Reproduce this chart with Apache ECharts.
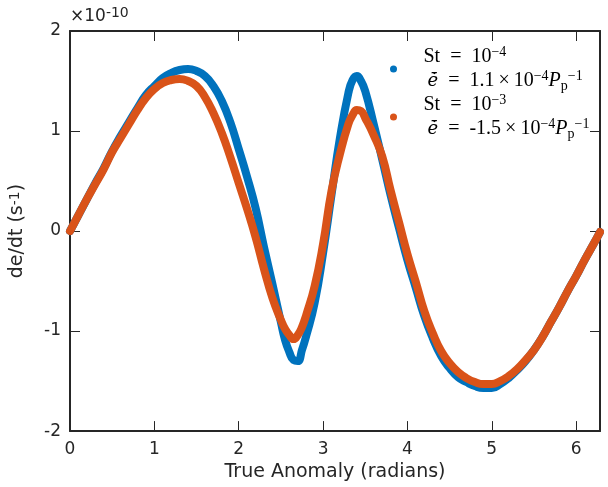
<!DOCTYPE html>
<html>
<head>
<meta charset="utf-8">
<script src="https://cdn.jsdelivr.net/npm/echarts@6/dist/echarts.min.js"></script>
<style>
html,body{margin:0;padding:0;background:#fff;}
#chart{width:608px;height:487px;}
</style>
</head>
<body>
<div id="chart"></div>
<script>
// True anomaly (radians)
var anomaly = [0,0.1,0.2,0.3,0.4,0.5,0.6,0.7,0.8,0.9,1.0,1.1,1.2,1.3,1.4,1.5,1.6,1.7,1.8,1.9,2.0,2.1,2.2,2.3,2.4,2.5,2.55,2.6,2.65,2.7,2.75,2.8,2.9,3.0,3.1,3.2,3.3,3.35,3.4,3.45,3.5,3.6,3.7,3.8,3.9,4.0,4.1,4.2,4.3,4.4,4.5,4.6,4.7,4.8,4.9,5.0,5.1,5.2,5.3,5.4,5.5,5.6,5.7,5.8,5.9,6.0,6.1,6.2,6.283];
// de/dt in units of 1e-10 s^-1, St = 1e-4 (blue)
var dedtSt4 = [0.00,0.16,0.32,0.48,0.63,0.80,0.95,1.09,1.23,1.36,1.45,1.53,1.58,1.61,1.62,1.60,1.55,1.45,1.30,1.09,0.82,0.54,0.23,-0.16,-0.53,-0.91,-1.09,-1.21,-1.29,-1.30,-1.19,-1.05,-0.72,-0.22,0.36,0.93,1.38,1.51,1.55,1.50,1.40,1.07,0.72,0.36,0.03,-0.29,-0.57,-0.85,-1.07,-1.25,-1.37,-1.46,-1.51,-1.55,-1.57,-1.57,-1.53,-1.47,-1.39,-1.30,-1.19,-1.06,-0.91,-0.76,-0.60,-0.45,-0.29,-0.14,-0.01];
// de/dt in units of 1e-10 s^-1, St = 1e-3 (orange)
var dedtSt3 = [0.00,0.16,0.32,0.47,0.62,0.79,0.93,1.07,1.21,1.33,1.42,1.48,1.51,1.52,1.50,1.45,1.34,1.18,0.98,0.74,0.48,0.22,-0.06,-0.38,-0.67,-0.89,-0.98,-1.04,-1.08,-1.04,-0.96,-0.84,-0.55,-0.13,0.40,0.77,1.07,1.16,1.21,1.20,1.13,0.96,0.75,0.41,0.09,-0.23,-0.51,-0.80,-1.02,-1.20,-1.32,-1.41,-1.47,-1.51,-1.53,-1.53,-1.50,-1.45,-1.38,-1.29,-1.19,-1.06,-0.91,-0.76,-0.60,-0.45,-0.29,-0.14,-0.01];
var xTicks = [0,1,2,3,4,5,6];
var yTicks = [-2,-1,0,1,2];
var seriesNames = ['St4','St3'];

function pairs(xs, ys){ return xs.map(function(x,i){ return [x, ys[i]]; }); }

var axisColor = '#262626';
var serif = 'Liberation Serif';
var rich = {
  t:{fontFamily:serif,fontSize:20,color:'#000',lineHeight:24},
  e:{fontFamily:'DejaVu Serif',fontSize:18,fontStyle:'italic',color:'#000',lineHeight:24},
  it:{fontFamily:serif,fontSize:20,fontStyle:'italic',color:'#000',lineHeight:24},
  sup:{fontFamily:serif,fontSize:14,color:'#000',lineHeight:15,verticalAlign:'top'},
  sub:{fontFamily:serif,fontSize:14,color:'#000',lineHeight:13,verticalAlign:'bottom'}
};
var eDot = 'e\u0307\u0304';

function makeAxis(kind, position, extra){
  var a = {
    type:'value', position:position,
    axisLine:{show:true,onZero:false,lineStyle:{color:axisColor,width:2}},
    axisTick:{show:true,inside:true,length:10,lineStyle:{color:axisColor}},
    splitLine:{show:false},
    axisLabel:{show:false}
  };
  if(kind==='x'){ a.min=0; a.max=6.283; a.interval=1; }
  else { a.min=-2; a.max=2; a.interval=1; }
  for(var k in extra){ a[k]=extra[k]; }
  return a;
}

var chart = echarts.init(document.getElementById('chart'));

chart.setOption({
  backgroundColor:'#fff',
  animation:false,
  grid:{left:68,right:8,top:31,bottom:55},
  graphic:[{type:'text',left:70,top:6,style:{
    text:'×10{s|-10}',
    rich:{s:{fontFamily:'DejaVu Sans',fontSize:14,fill:axisColor,lineHeight:14,verticalAlign:'top'}},
    fontFamily:'DejaVu Sans',fontSize:17,fill:axisColor,lineHeight:22}}],
  legend:{
    orient:'vertical',left:385,top:40,itemWidth:50,itemHeight:7,itemGap:0,
    data:[{name:seriesNames[0],icon:'circle'},{name:seriesNames[1],icon:'circle'}],
    formatter:function(name){
      if(name===seriesNames[0]){
        return '{t|St\u2002=\u200210}{sup|−4}\n{t|\u2009}{e|' + eDot + '}{t|\u2002=\u20021.1\u2009×\u200910}{sup|−4}{it|P}{sub|p}{sup|−1}';
      }
      return '{t|St\u2002=\u200210}{sup|−3}\n{t|\u2009}{e|' + eDot + '}{t|\u2002=\u2002-1.5\u2009×\u200910}{sup|−4}{it|P}{sub|p}{sup|−1}';
    },
    textStyle:{lineHeight:24,rich:rich}
  },
  xAxis:[
    makeAxis('x','bottom',{
      name:'True Anomaly (radians)',nameLocation:'middle',nameGap:25,
      nameTextStyle:{fontFamily:'DejaVu Sans',fontSize:19,color:axisColor},
      axisLabel:{show:true,margin:10,fontFamily:'DejaVu Sans',fontSize:17,color:axisColor,
        formatter:function(v){ return xTicks.indexOf(v)>=0 ? String(v) : ''; }}}),
    makeAxis('x','top',{})
  ],
  yAxis:[
    makeAxis('y','left',{
      name:'de/dt (s{s|-1})',nameLocation:'middle',nameGap:43,
      nameTextStyle:{fontFamily:'DejaVu Sans',fontSize:19,color:axisColor,
        rich:{s:{fontFamily:'DejaVu Sans',fontSize:14,color:axisColor,lineHeight:13,verticalAlign:'top'}}},
      axisLabel:{show:true,margin:9,fontFamily:'DejaVu Sans',fontSize:17,color:axisColor,
        formatter:function(v){ return yTicks.indexOf(v)>=0 ? String(v) : ''; }}}),
    makeAxis('y','right',{})
  ],
  series:[
    {name:seriesNames[0],type:'line',xAxisIndex:0,yAxisIndex:0,data:pairs(anomaly,dedtSt4),
     smooth:0.5,showSymbol:false,symbol:'circle',clip:false,
     itemStyle:{color:'#0072BD'},lineStyle:{color:'#0072BD',width:8,cap:'round',join:'round'}},
    {name:seriesNames[1],type:'line',xAxisIndex:0,yAxisIndex:0,data:pairs(anomaly,dedtSt3),
     smooth:0.5,showSymbol:false,symbol:'circle',clip:false,
     itemStyle:{color:'#D95319'},lineStyle:{color:'#D95319',width:8,cap:'round',join:'round'}}
  ]
});
</script>
</body>
</html>
